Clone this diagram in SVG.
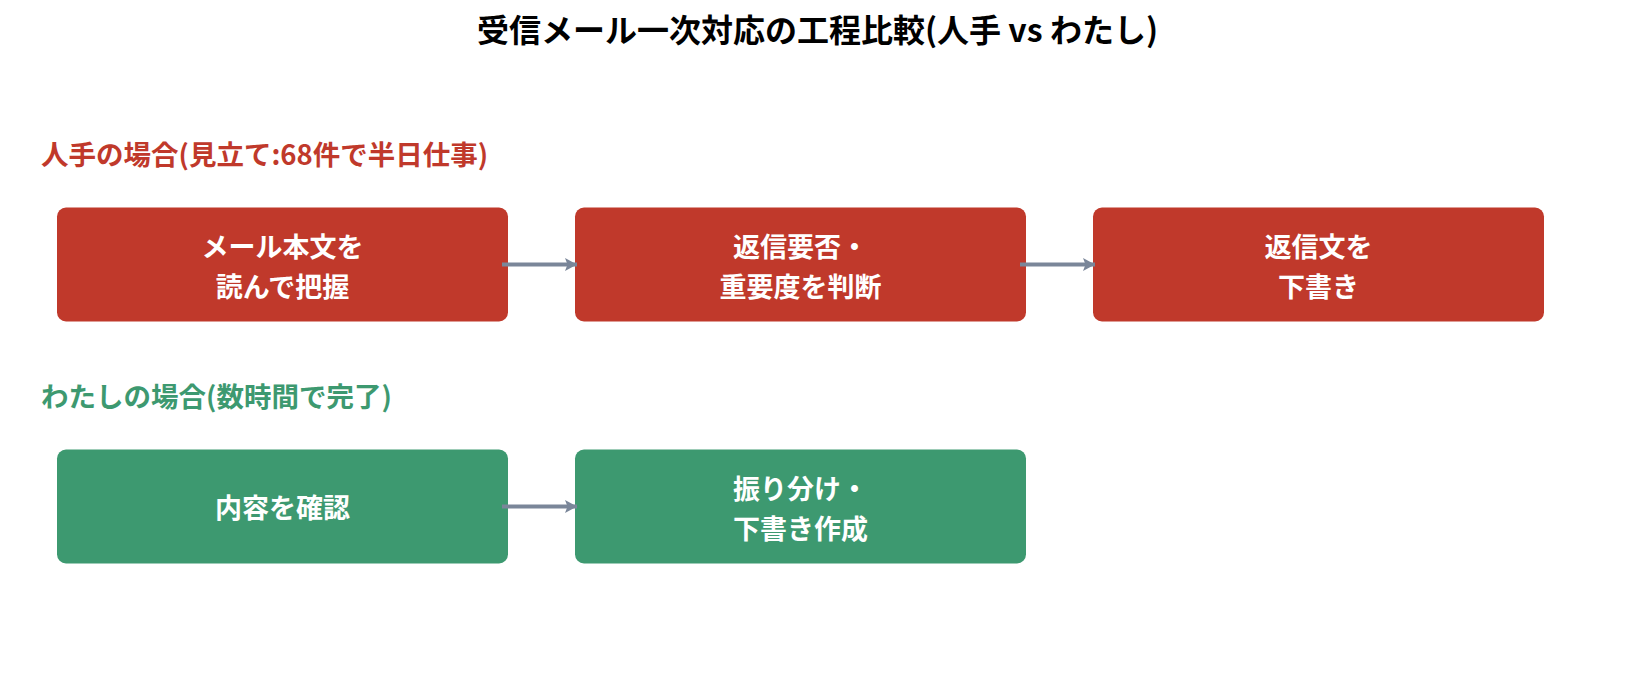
<svg xmlns="http://www.w3.org/2000/svg" width="1635" height="675" viewBox="0 0 1635 675">
  <style>
    .title { font-family: "Noto Sans CJK JP", "Noto Sans", sans-serif; font-weight: 700; font-size: 32px; fill: #000000; }
    .sec { font-family: "Noto Sans CJK JP", "Noto Sans", sans-serif; font-weight: 700; font-size: 27.5px; }
    .sec-red { fill: #c0392b; }
    .sec-green { fill: #3d9970; }
    .box-red { fill: #c0392b; }
    .box-green { fill: #3d9970; }
    .lbl { font-family: "Noto Sans CJK JP", "Noto Sans", sans-serif; font-weight: 700; font-size: 27px; fill: #ffffff; text-anchor: middle; dominant-baseline: central; }
    .edge { stroke: #7a8699; stroke-width: 4; fill: none; }
  </style>
  <defs>
    <marker id="arrow" markerUnits="userSpaceOnUse" markerWidth="14" markerHeight="14" refX="12" refY="7" orient="auto">
      <path d="M0,0.5 L12,7 L0,13.5 L2.5,7 Z" fill="#7a8699"/>
    </marker>
  </defs>
  <rect width="1635" height="675" fill="#ffffff"/>

  <text class="title" x="817.5" y="28" text-anchor="middle" dominant-baseline="central">受信メール一次対応の工程比較(人手 vs わたし)</text>

  <text class="sec sec-red" x="41" y="153" dominant-baseline="central">人手の場合(見立て:68件で半日仕事)</text>
  <text class="sec sec-green" x="41" y="395" dominant-baseline="central">わたしの場合(数時間で完了)</text>

  <g id="node-h1">
    <rect class="box-red" x="57" y="207.5" width="451" height="114" rx="9"/>
    <text class="lbl"><tspan x="282.5" y="245">メール本文を</tspan><tspan x="282.5" y="284.5">読んで把握</tspan></text>
  </g>
  <g id="node-h2">
    <rect class="box-red" x="575" y="207.5" width="451" height="114" rx="9"/>
    <text class="lbl"><tspan x="800.5" y="245">返信要否・</tspan><tspan x="800.5" y="284.5">重要度を判断</tspan></text>
  </g>
  <g id="node-h3">
    <rect class="box-red" x="1093" y="207.5" width="451" height="114" rx="9"/>
    <text class="lbl"><tspan x="1318.5" y="245">返信文を</tspan><tspan x="1318.5" y="284.5">下書き</tspan></text>
  </g>
  <g id="node-w1">
    <rect class="box-green" x="57" y="449.5" width="451" height="114" rx="9"/>
    <text class="lbl" x="282.5" y="506.5">内容を確認</text>
  </g>
  <g id="node-w2">
    <rect class="box-green" x="575" y="449.5" width="451" height="114" rx="9"/>
    <text class="lbl"><tspan x="800.5" y="487">振り分け・</tspan><tspan x="800.5" y="526.5">下書き作成</tspan></text>
  </g>

  <g id="connectors">
    <path class="edge" d="M502,264.5 L577,264.5" marker-end="url(#arrow)"/>
    <path class="edge" d="M1020,264.5 L1095,264.5" marker-end="url(#arrow)"/>
    <path class="edge" d="M502,506.5 L577,506.5" marker-end="url(#arrow)"/>
  </g>
</svg>
